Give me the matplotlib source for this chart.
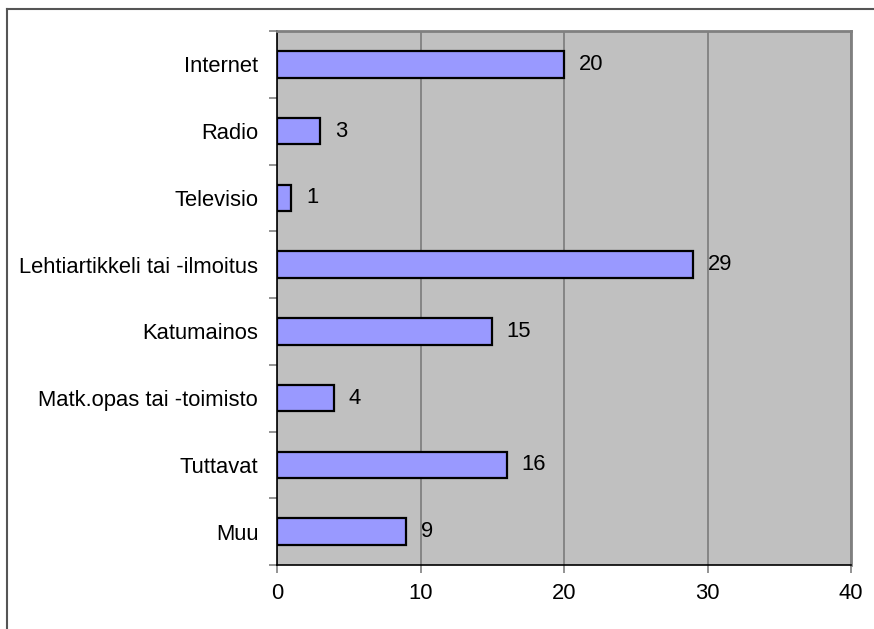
import matplotlib
matplotlib.use("Agg")
import matplotlib.pyplot as plt
from matplotlib.lines import Line2D

# survey answers: where did you hear about it
CATEGORIES = [
    "Internet", "Radio", "Televisio", "Lehtiartikkeli tai -ilmoitus",
    "Katumainos", "Matk.opas tai -toimisto", "Tuttavat", "Muu",
]
COUNTS = [20, 3, 1, 29, 15, 4, 16, 9]
X_TICKS = [0, 10, 20, 30, 40]

plt.rcParams["font.family"] = ["Liberation Sans", "DejaVu Sans"]
FS = 15.8

fig = plt.figure(figsize=(8.74, 6.29), dpi=100)
ax = fig.add_axes([277 / 874, 1 - 565 / 629, (851 - 277) / 874, (565 - 31) / 629])
ax.set_facecolor("#c0c0c0")

ypos = list(range(len(CATEGORIES)))
bars = ax.barh(ypos, COUNTS, height=0.4, color="#9999ff",
               edgecolor="black", linewidth=1.6, zorder=3)

for bar, v in zip(bars, COUNTS):
    ax.annotate(str(v), (bar.get_width(), bar.get_y() + bar.get_height() / 2),
                xytext=(10.5, 0), textcoords="offset points",
                va="center", ha="left", fontsize=FS)

ax.set_xlim(0, 40)
ax.set_ylim(len(CATEGORIES) - 0.5, -0.5)
ax.set_xticks(X_TICKS)
ax.set_xticklabels([str(t) for t in X_TICKS], fontsize=FS)

# category labels centred, tick marks on the boundaries
ax.set_yticks(ypos)
ax.set_yticklabels(CATEGORIES, fontsize=FS)
ax.tick_params(axis="y", length=0, pad=13.5)
ax.set_yticks([i - 0.5 for i in range(len(CATEGORIES) + 1)], minor=True)
ax.tick_params(axis="y", which="minor", length=6, color="#808080", width=1.2)
ax.tick_params(axis="x", length=6, color="#808080", width=1.2, pad=7)

ax.grid(axis="x", color="#808080", linewidth=1.3, zorder=1)
ax.set_axisbelow(True)

for side in ["top", "right"]:
    ax.spines[side].set_color("#808080")
    ax.spines[side].set_linewidth(2)
for side in ["left", "bottom"]:
    ax.spines[side].set_color("black")
    ax.spines[side].set_linewidth(1.2)

# outer chart frame (top and left edges visible)
fig.add_artist(Line2D([7 / 874, 1], [1 - 9 / 629, 1 - 9 / 629],
                      color="#555555", linewidth=1.5, transform=fig.transFigure))
fig.add_artist(Line2D([7 / 874, 7 / 874], [0, 1 - 9 / 629],
                      color="#555555", linewidth=1.5, transform=fig.transFigure))

fig.savefig("out.png", dpi=100)
